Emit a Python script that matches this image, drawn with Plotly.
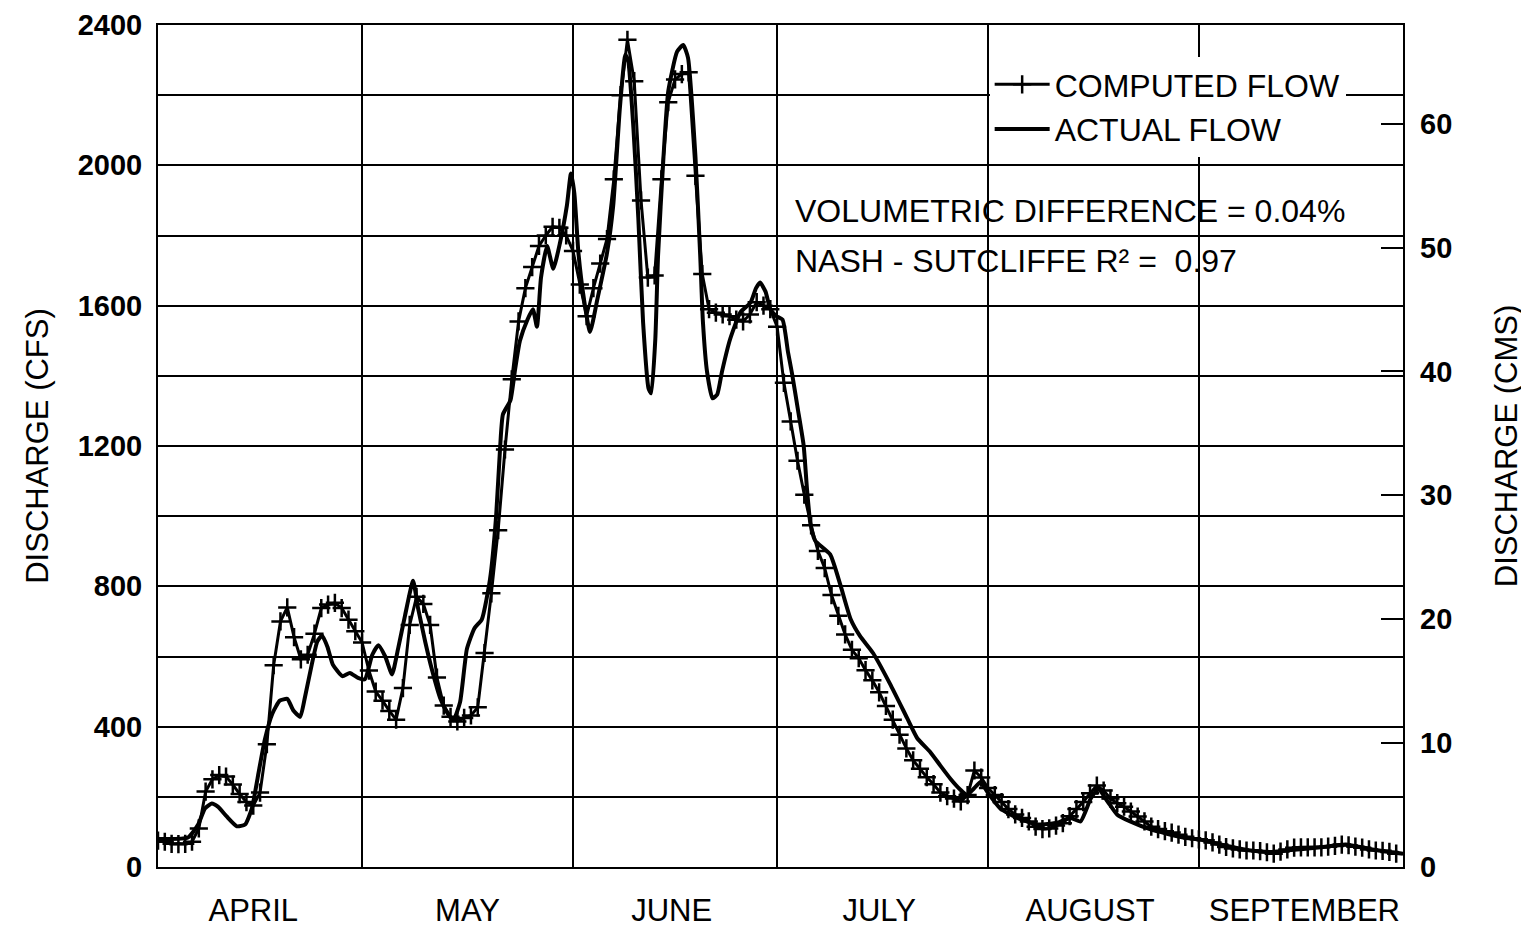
import plotly.graph_objects as go

# vazão calculada (diária, 1 abr a 30 set) em CFS
dia = list(range(183))
vazao_calculada = [
    75, 72, 66, 65, 66, 72, 110, 215, 250, 262,
    258, 235, 208, 185, 175, 212, 350, 575, 700, 740,
    655, 592, 605, 665, 738, 748, 753, 738, 705, 672,
    640, 560, 500, 474, 445, 420, 510, 690, 770, 750,
    690, 540, 460, 428, 415, 425, 432, 455, 610, 780,
    960, 1190, 1390, 1555, 1650, 1710, 1770, 1800, 1825, 1822,
    1800, 1756, 1660, 1570, 1650, 1720, 1790, 1960, 2200, 2358,
    2240, 1900, 1680, 1686, 1960, 2180, 2245, 2260, 2265, 1970,
    1690, 1590, 1580, 1575, 1570, 1560, 1555, 1575, 1610, 1600,
    1590, 1540, 1380, 1270, 1158, 1061, 974, 901, 852, 775,
    716, 663, 619, 595, 561, 532, 498, 459, 420, 377,
    338, 304, 280, 256, 236, 212, 202, 195, 187, 205,
    275, 255, 225, 205, 185, 165, 150, 140, 130, 115,
    108, 110, 118, 125, 145, 165, 185, 210, 232, 218,
    195, 182, 172, 158, 144, 130, 115, 108, 102, 98,
    92, 86, 82, 79, 76, 70, 64, 57, 53, 50,
    47, 47, 45, 42, 38, 44, 50, 55, 56, 56,
    56, 56, 58, 60, 64, 62, 58, 55, 50, 47,
    46, 43, 38,
]

dia_real = [
    0, 4.4, 5.9, 6.9, 7.9, 8.8, 10.1, 11.6, 12.8, 13.8,
    14.7, 15.7, 16.8, 17.9, 19.0, 19.9, 20.9, 21.6, 22.6, 23.4,
    24.1, 24.9, 25.7, 27.1, 28.2, 29.4, 30.4, 31.5, 32.4, 33.4,
    34.4, 35.3, 36.3, 37.5, 38.2, 39.3, 40.3, 41.5, 42.5, 43.4,
    44.4, 45.4, 46.5, 47.6, 48.8, 49.7, 50.3, 50.7, 51.8, 52.5,
    53.2, 54.3, 55.1, 55.7, 56.3, 57.2, 58.1, 59.1, 60.1, 60.7,
    61.2, 61.8, 62.6, 63.5, 64.6, 66.0, 66.9, 67.9, 68.7, 69.1,
    69.9, 70.6, 71.3, 72.1, 72.5, 73.1, 73.5, 74.3, 75.0, 76.3,
    77.2, 77.9, 79.0, 79.7, 80.1, 80.7, 81.5, 82.2, 82.9, 84.1,
    85.6, 87.1, 87.9, 88.5, 89.3, 90.0, 90.9, 91.8, 92.6, 93.2,
    94.1, 94.9, 95.4, 95.9, 96.6, 98.8, 100.3, 101.8, 103.2, 105.1,
    107.6, 110.1, 111.6, 113.5, 115.0, 116.5, 117.9, 118.9, 119.9, 120.9,
    121.9, 123.8, 126.3, 129.3, 132.2, 134.1, 135.6, 137.1, 138.2, 139.6,
    141.0, 142.9, 145.9, 150.7, 153.2, 156.2, 160.6, 163.5, 165.7, 170.9,
    174.6, 178.5, 183.0,
]
vazao_real = [
    80, 84, 121, 167, 181, 172, 144, 116, 121, 167,
    260, 363, 437, 474, 479, 446, 428, 484, 577, 642,
    660, 628, 577, 544, 553, 539, 535, 605, 632, 600,
    549, 623, 716, 816, 740, 640, 560, 480, 440, 418,
    470, 621, 680, 706, 820, 1000, 1200, 1290, 1330, 1420,
    1500, 1560, 1590, 1540, 1680, 1770, 1705, 1780, 1885, 1977,
    1920, 1750, 1620, 1525, 1620, 1750, 1883, 2166, 2315, 2300,
    2100, 1850, 1553, 1364, 1350, 1505, 1742, 2024, 2211, 2324,
    2343, 2307, 2024, 1742, 1553, 1412, 1336, 1347, 1412, 1505,
    1581, 1609, 1650, 1666, 1640, 1590, 1570, 1560, 1468, 1406,
    1299, 1202, 1076, 978, 930, 891, 804, 707, 658, 610,
    522, 425, 367, 328, 289, 251, 221, 205, 223, 242,
    214, 167, 140, 121, 126, 140, 130, 195, 223, 186,
    149, 130, 107, 84, 78, 64, 47, 43, 47, 56,
    64, 50, 38,
]

meses = ['APRIL', 'MAY', 'JUNE', 'JULY', 'AUGUST', 'SEPTEMBER']
centro_meses = [14, 45.5, 75.5, 106, 137, 168.5]
inicio_meses = [30, 61, 91, 122, 153]

CFS_PARA_CMS = 0.0283168
fonte = 'Liberation Sans, Arial, Helvetica, sans-serif'

fig = go.Figure()

fig.add_trace(go.Scatter(
    x=dia, y=vazao_calculada, name='COMPUTED FLOW', mode='lines+markers',
    line=dict(color='black', width=3),
    marker=dict(symbol='cross-thin', size=13, line=dict(color='black', width=2.5))
))
fig.add_trace(go.Scatter(
    x=dia_real, y=vazao_real, name='ACTUAL FLOW', mode='lines',
    line=dict(color='black', width=4, shape='spline', smoothing=0.5)
))
# traço invisível só para ativar o eixo em CMS
fig.add_trace(go.Scatter(
    x=dia, y=[v * CFS_PARA_CMS for v in vazao_calculada], yaxis='y2',
    mode='lines', line=dict(width=0, color='rgba(0,0,0,0)'),
    showlegend=False, hoverinfo='skip'
))

fig.update_layout(
    width=1529, height=929,
    margin=dict(l=150, r=134, t=17, b=70, autoexpand=False),
    plot_bgcolor='white', paper_bgcolor='white',
    font=dict(family=fonte, color='black'),
    showlegend=True,
    legend=dict(
        x=0.668, y=0.962, xanchor='left', yanchor='top',
        bgcolor='white', borderwidth=0,
        font=dict(size=32, family=fonte, color='black'),
        itemwidth=55, tracegroupgap=0
    ),
    xaxis=dict(
        range=[0, 183], tickvals=centro_meses, ticktext=meses,
        ticks='outside', ticklen=15, tickcolor='rgba(0,0,0,0)',
        tickfont=dict(size=31, family=fonte),
        showgrid=False, zeroline=False, automargin=False,
        showline=True, linecolor='black', linewidth=2, mirror=True,
        minor=dict(tickvals=inicio_meses, showgrid=True,
                   gridcolor='black', gridwidth=1.5, ticks='')
    ),
    yaxis=dict(
        range=[0, 2400], tickvals=list(range(0, 2401, 400)),
        ticks='outside', ticklen=8, tickcolor='rgba(0,0,0,0)',
        tickfont=dict(size=29, family=fonte, weight='bold'),
        ticklabeloverflow='allow',
        showgrid=True, gridcolor='black', gridwidth=2,
        zeroline=False, automargin=False,
        showline=True, linecolor='black', linewidth=2, mirror=True,
        minor=dict(tickvals=list(range(200, 2400, 400)), showgrid=True,
                   gridcolor='black', gridwidth=2, ticks=''),
        title=dict(text='DISCHARGE (CFS)', font=dict(size=31, family=fonte), standoff=20)
    ),
    yaxis2=dict(
        overlaying='y', side='right',
        range=[0, 2400 * CFS_PARA_CMS], tickvals=list(range(0, 61, 10)),
        ticks='inside', ticklen=22, tickwidth=2, tickcolor='black',
        ticklabelstandoff=16, automargin=False,
        tickfont=dict(size=29, family=fonte, weight='bold'),
        showgrid=False, zeroline=False, showline=False,
        title=dict(text='DISCHARGE (CMS)', font=dict(size=31, family=fonte), standoff=44)
    ),
)

fig.add_annotation(
    x=0.51, y=0.779, xref='paper', yref='paper', xanchor='left', yanchor='middle',
    text='VOLUMETRIC DIFFERENCE = 0.04%', showarrow=False,
    font=dict(size=32, family=fonte, color='black')
)
fig.add_annotation(
    x=0.51, y=0.72, xref='paper', yref='paper', xanchor='left', yanchor='middle',
    text='NASH - SUTCLIFFE R² =  0.97', showarrow=False,
    font=dict(size=32, family=fonte, color='black')
)

fig.write_html("out.html")
